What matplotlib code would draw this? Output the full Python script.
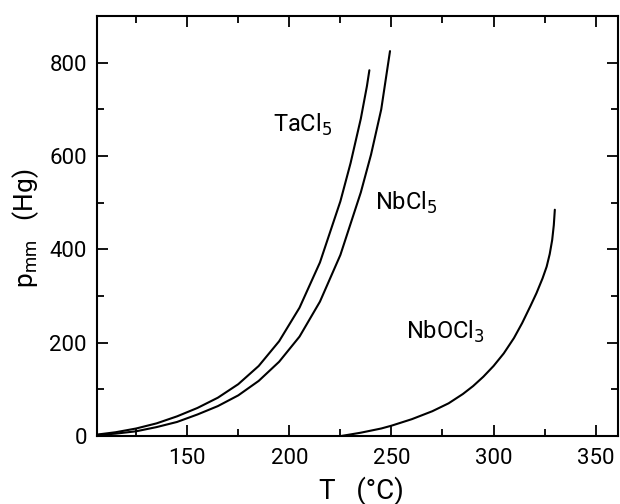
import matplotlib
matplotlib.use("Agg")
import matplotlib.pyplot as plt
from matplotlib.ticker import MultipleLocator

plt.rcParams['font.family'] = ['Roboto', 'DejaVu Sans']

# TaCl5 vapour pressure curve (T in °C, p in mm Hg)
ta_T = [106, 115, 125, 135, 145, 155, 165, 175, 185, 195, 205, 215, 225, 230, 235, 238, 239.2]
ta_p = [3, 8, 16, 27, 42, 60, 82, 111, 150, 203, 275, 372, 503, 585, 680, 750, 784]

# NbCl5 vapour pressure curve
nb_T = [106, 115, 125, 135, 145, 155, 165, 175, 185, 195, 205, 215, 225, 235, 240, 245, 249.3]
nb_p = [2, 5, 10, 19, 30, 46, 64, 87, 118, 159, 213, 288, 388, 522, 603, 700, 825]

# NbOCl3 vapour pressure curve
nbo_T = [225.5, 235, 245, 250, 260, 270, 278, 285, 290, 295, 300, 305, 310, 314, 318,
         321, 324, 326, 327.5, 328.7, 329.5, 330]
nbo_p = [0, 7, 16, 22, 36, 53, 70, 90, 107, 127, 150, 177, 210, 242, 278,
         306, 338, 363, 390, 420, 452, 485]

labels = ["TaCl$_5$", "NbCl$_5$", "NbOCl$_3$"]
label_pos = [(192, 666), (241.8, 499), (257, 223)]

x_ticks = [150, 200, 250, 300, 350]
y_ticks = [0, 200, 400, 600, 800]

fig = plt.figure(figsize=(6.2, 5.04), dpi=100)
ax = fig.add_axes([0.156, 0.135, 0.841, 0.833])

for T, p in [(ta_T, ta_p), (nb_T, nb_p), (nbo_T, nbo_p)]:
    ax.plot(T, p, color='black', lw=1.5, solid_capstyle='round', solid_joinstyle='round')

for lab, (x, y) in zip(labels, label_pos):
    ax.text(x, y, lab, fontsize=17, ha='left', va='center')

ax.set_xlim(105.7, 361)
ax.set_ylim(0, 900)
ax.set_xticks(x_ticks)
ax.set_yticks(y_ticks)
ax.xaxis.set_minor_locator(MultipleLocator(25))
ax.yaxis.set_minor_locator(MultipleLocator(100))
ax.tick_params(which='both', direction='in', top=True, right=True, width=1.3, labelsize=16)
ax.tick_params(which='major', length=8)
ax.tick_params(which='minor', length=5)
ax.tick_params(axis='x', pad=9)
ax.tick_params(axis='y', pad=7)
for s in ax.spines.values():
    s.set_linewidth(1.5)

fig.text(361 / 620, 1 - 491 / 504, "T   (°C)", fontsize=20, ha='center', va='center')
fig.text(26 / 620, 1 - 228 / 504, "p$_{\\mathregular{mm}}$   (Hg)", fontsize=19,
         rotation=90, ha='center', va='center')

fig.savefig("out.png", dpi=100)
